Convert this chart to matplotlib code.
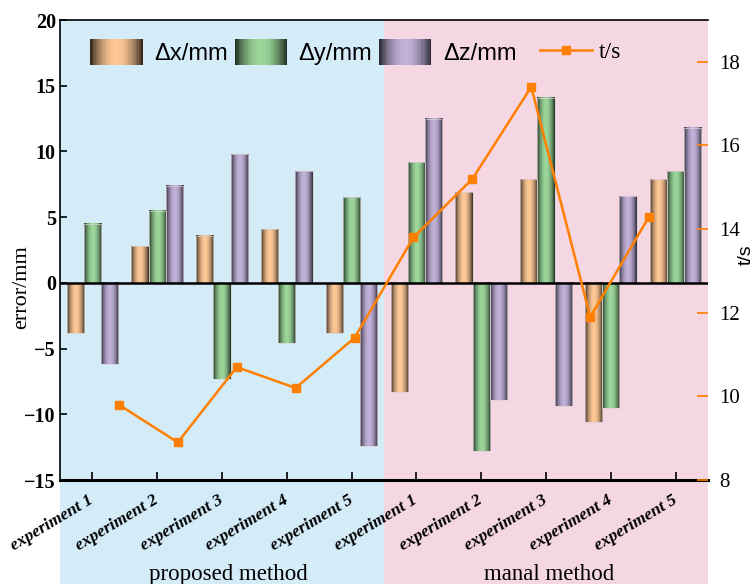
import numpy as np
import matplotlib
matplotlib.use("Agg")
import matplotlib.pyplot as plt
from matplotlib.patches import Rectangle, Patch
from matplotlib.lines import Line2D
from matplotlib.legend_handler import HandlerBase
import matplotlib.transforms as mtrans

# ---------------- data ----------------
categories = ["experiment 1", "experiment 2", "experiment 3", "experiment 4", "experiment 5",
              "experiment 1", "experiment 2", "experiment 3", "experiment 4", "experiment 5"]
groups = ["proposed method", "manal method"]
dx = [-3.8, 2.8, 3.6, 4.1, -3.8, -8.3, 6.9, 7.9, -10.6, 7.9]
dy = [4.5, 5.5, -7.3, -4.6, 6.5, 9.2, -12.8, 14.1, -9.5, 8.5]
dz = [-6.2, 7.4, 9.8, 8.5, -12.4, 12.5, -8.9, -9.4, 6.6, 11.8]
t_s = [9.8, 8.9, 10.7, 10.2, 11.4, 13.8, 15.2, 17.4, 11.9, 14.3]
series_labels = ["\u0394x/mm", "\u0394y/mm", "\u0394z/mm"]
line_label = "t/s"
left_ticks = [-15, -10, -5, 0, 5, 10, 15, 20]
right_ticks = [8, 10, 12, 14, 16, 18]

# ---------------- style ----------------
light_cols = ["#FDC896", "#9CD69A", "#C1B1D8"]
dark_cols = ["#2A1F14", "#152418", "#22202A"]
bg_blue = "#D4EBF8"
bg_pink = "#F5D6E3"
orange = "#FF8000"


def grad_colors(light, dark, n=64):
    l = np.array(matplotlib.colors.to_rgb(light))
    d = np.array(matplotlib.colors.to_rgb(dark))
    u = (np.arange(n) + 0.5) / n
    b = np.sin(np.pi * u) ** 0.8
    return d[None, :] + (l - d)[None, :] * b[:, None]


class GradHandler(HandlerBase):
    def __init__(self, light, dark):
        super().__init__()
        self.light = light
        self.dark = dark

    def create_artists(self, legend, orig_handle, xdescent, ydescent,
                       width, height, fontsize, trans):
        cols = grad_colors(self.light, self.dark, 40)
        n = len(cols)
        arts = []
        for i, c in enumerate(cols):
            r = Rectangle((-xdescent + i * width / n, -ydescent), width / n * 1.08, height,
                          facecolor=c, edgecolor="none", transform=trans)
            arts.append(r)
        return arts


fig = plt.figure(figsize=(7.56, 5.84), dpi=100)
rect = [60 / 756, (584 - 480) / 584, 648 / 756, 460 / 584]
ax = fig.add_axes(rect)
ax.set_facecolor("none")

n = len(categories)
x = np.arange(n)
w = 0.265

# background spans (extend below axes)
ax.axvspan(-0.5, 4.5, ymin=-0.23, ymax=1, color=bg_blue, zorder=0, clip_on=False, lw=0)
ax.axvspan(4.5, 9.5, ymin=-0.23, ymax=1, color=bg_pink, zorder=0, clip_on=False, lw=0)

for k, vals in enumerate([dx, dy, dz]):
    bars = ax.bar(x + (k - 1) * w, vals, width=w, facecolor="none",
                  edgecolor="#d9cfd3", linewidth=0.5, zorder=3)
    cols = grad_colors(light_cols[k], dark_cols[k], 64)
    img = cols[None, :, :]
    for b in bars:
        x0, bw = b.get_x(), b.get_width()
        y0, bh = b.get_y(), b.get_height()
        ax.imshow(img, extent=(x0, x0 + bw, min(y0, y0 + bh), max(y0, y0 + bh)),
                  aspect="auto", interpolation="bilinear", zorder=2)

ax.axhline(0, color="black", lw=1.8, zorder=4)
ax.set_xlim(-0.5, n - 0.5)
ax.set_ylim(-15, 20)
ax.set_yticks(left_ticks)
ax.set_yticklabels([("\u2212%d" % -v) if v < 0 else str(v) for v in left_ticks],
                   fontfamily="Liberation Serif", fontweight="bold", fontsize=14.5)
ax.set_xticks(x)
ax.set_xticklabels(categories, rotation=31, ha="right", va="center", rotation_mode="anchor",
                   fontfamily="Liberation Serif", fontweight="bold", fontstyle="italic",
                   fontsize=12.5)
shift = mtrans.ScaledTranslation(9 / 100, 0, fig.dpi_scale_trans)
for lab in ax.get_xticklabels():
    lab.set_transform(lab.get_transform() + shift)
ax.tick_params(axis="x", direction="in", length=6, width=1.2, pad=14)
ax.tick_params(axis="y", direction="in", length=5, width=1.2, pad=3)
for s in ["left", "top"]:
    ax.spines[s].set_linewidth(1.2)
ax.spines["bottom"].set_linewidth(2.2)
ax.spines["right"].set_visible(False)
ax.set_ylabel("error/mm", fontfamily="Liberation Serif", fontsize=16)
ax.yaxis.set_label_coords(-0.044, 0.42)

blend = mtrans.blended_transform_factory(ax.transData, ax.transAxes)
ax.text(2.1, -0.217, groups[0], transform=blend, ha="center", va="baseline",
        fontfamily="Liberation Serif", fontsize=16.5)
ax.text(7.05, -0.217, groups[1], transform=blend, ha="center", va="baseline",
        fontfamily="Liberation Serif", fontsize=16.5)

# secondary axis for time line
ax2 = fig.add_axes(rect, frameon=False)
ax2.set_facecolor("none")
line, = ax2.plot(np.arange(1, n + 1), t_s, color=orange, lw=1.8, marker="s",
                 markersize=6, zorder=5)
ax2.set_xlim(0, n + 1)
ax2.set_ylim(8, 19)
ax2.xaxis.set_visible(False)
ax2.yaxis.tick_right()
ax2.yaxis.set_label_position("right")
ax2.set_yticks(right_ticks)
ax2.set_yticklabels([str(v) for v in right_ticks], fontfamily="Liberation Serif", fontsize=15)
ax2.tick_params(axis="y", direction="in", length=8, width=1.2, color=orange, pad=8)
ax2.spines["right"].set_visible(True)
ax2.spines["right"].set_color(orange)
ax2.spines["right"].set_linewidth(1.5)
ax2.set_ylabel("t/s", fontfamily="Liberation Sans", fontsize=14, rotation=90)
ax2.yaxis.set_label_coords(1.046, 0.49)

# legends
handles = [Patch(label=l) for l in series_labels]
hmap = {h: GradHandler(light_cols[i], dark_cols[i]) for i, h in enumerate(handles)}
leg = ax2.legend(handles, series_labels, handler_map=hmap, ncol=3,
                 loc="center left", bbox_to_anchor=(0.047, 0.93), frameon=False,
                 borderpad=0, borderaxespad=0, handlelength=2.2, handleheight=1.3,
                 handletextpad=0.5, columnspacing=0.3,
                 prop={"family": "Liberation Sans", "size": 17})
ax2.add_artist(leg)
lh = Line2D([], [], color=orange, lw=1.8, marker="s", markersize=6)
ax2.legend([lh], [line_label], loc="center left", bbox_to_anchor=(0.741, 0.93),
           frameon=False, borderpad=0, borderaxespad=0, handlelength=2.2,
           handletextpad=0.3, numpoints=1,
           prop={"family": "Liberation Serif", "size": 17})

fig.savefig("out.png", dpi=100)
